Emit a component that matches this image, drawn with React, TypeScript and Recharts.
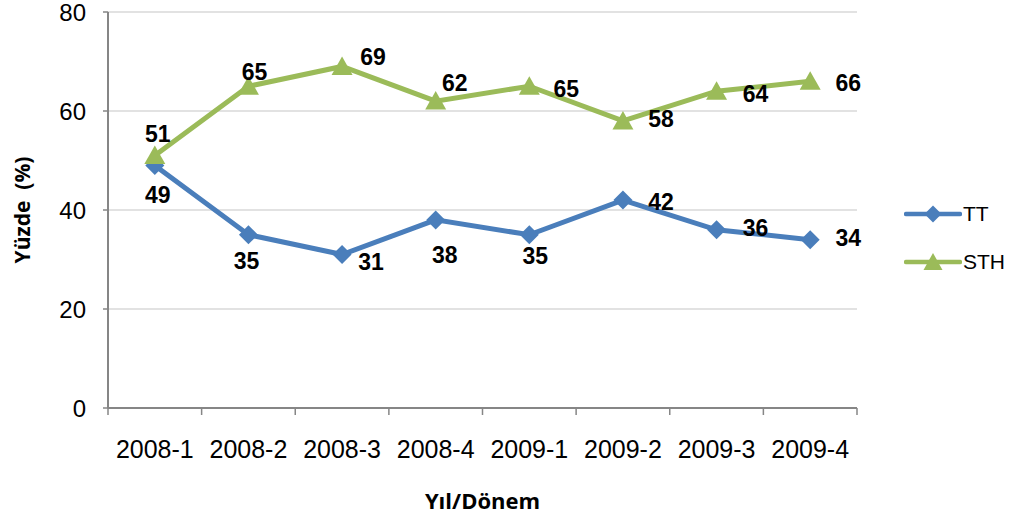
import { CartesianGrid, LabelList, Legend, Line, LineChart, XAxis, YAxis } from "recharts";

const periods = ["2008-1", "2008-2", "2008-3", "2008-4", "2009-1", "2009-2", "2009-3", "2009-4"];
const ttValues = [49, 35, 31, 38, 35, 42, 36, 34];
const sthValues = [51, 65, 69, 62, 65, 58, 64, 66];
const yTicks = [0, 20, 40, 60, 80];

const BLUE = "#4a7ebb";
const GREEN = "#9bbb59";
const AXIS = "#868686";
const GRID = "#d9d9d9";
const FONT = '"Liberation Sans", Arial, sans-serif';
const TITLE_FONT = '"Open Sans", "Liberation Sans", sans-serif';

// where each value label sits relative to its point (label centre), picked by hand to dodge the lines
const ttLabelOffsets = [[3, 30], [-2, 26], [29, 7], [9, 35], [6, 21], [38, 2], [39, -2], [38, -2]];
const sthLabelOffsets = [[3, -22], [6, -14], [31, -9], [19, -18], [37, 3], [38, -2], [39, 3], [38, 2]];

// x is numeric so the tick marks can sit between categories like in Excel
const data = periods.map((period, i) => ({ pos: i + 0.5, period, TT: ttValues[i], STH: sthValues[i] }));
const xTicks = [...periods.map((_, i) => i), periods.length, ...periods.map((_, i) => i + 0.5)].sort((a, b) => a - b);

function Diamond({ cx, cy, size = 9.5 }: { cx?: number; cy?: number; size?: number }) {
  if (cx == null || cy == null) return null;
  return <polygon points={`${cx},${cy - size} ${cx + size},${cy} ${cx},${cy + size} ${cx - size},${cy}`} fill={BLUE} />;
}

function Triangle({ cx, cy }: { cx?: number; cy?: number }) {
  if (cx == null || cy == null) return null;
  return <polygon points={`${cx},${cy - 10} ${cx + 10.5},${cy + 8.5} ${cx - 10.5},${cy + 8.5}`} fill={GREEN} />;
}

const valueLabel = (offsets: number[][]) => (props: any) => {
  const { x, y, value, index } = props;
  const [dx, dy] = offsets[index] ?? [0, -20];
  return (
    <text x={x + dx} y={y + dy} textAnchor="middle" dominantBaseline="central"
      fontFamily={FONT} fontWeight="bold" fontSize={23} fill="#000">
      {value}
    </text>
  );
};

function XTick({ x, y, payload }: any) {
  const v = payload.value as number;
  if (Number.isInteger(v)) {
    return <line x1={x} y1={y} x2={x} y2={y + 7} stroke={AXIS} strokeWidth={1.5} />;
  }
  return (
    <text x={x} y={y + 41} textAnchor="middle" dominantBaseline="central" fontFamily={FONT} fontSize={25} fill="#000">
      {periods[Math.floor(v)]}
    </text>
  );
}

function LegendBox() {
  const rows = [
    { name: "TT", color: BLUE, marker: <Diamond cx={29} cy={12} size={8.5} /> },
    { name: "STH", color: GREEN, marker: <polygon points="29,3 38.5,20 19.5,20" fill={GREEN} /> },
  ];
  return (
    <div>
      {rows.map((r) => (
        <div key={r.name} style={{ display: "flex", alignItems: "center", height: 24, marginBottom: 24 }}>
          <svg width={58} height={24}>
            <line x1={2} y1={12} x2={56} y2={12} stroke={r.color} strokeWidth={4.5} strokeLinecap="round" />
            {r.marker}
          </svg>
          <span style={{ fontFamily: FONT, fontSize: 21, color: "#000", marginLeft: 1 }}>{r.name}</span>
        </div>
      ))}
    </div>
  );
}

export default function App() {
  return (
    <div style={{ position: "absolute", left: 0, top: 0, background: "#fff" }}>
      <LineChart width={1014} height={518} data={data} margin={{ top: 12, right: 157, bottom: 0, left: 8 }}>
        <CartesianGrid horizontal vertical={false} stroke={GRID} strokeWidth={1.5} />
        <XAxis
          dataKey="pos"
          type="number"
          domain={[0, periods.length]}
          ticks={xTicks}
          interval={0}
          height={110}
          tickLine={false}
          tickSize={0}
          tickMargin={0}
          tick={<XTick />}
          axisLine={{ stroke: AXIS, strokeWidth: 2 }}
          label={{
            content: ({ viewBox }: any) => (
              <text x={viewBox.x + viewBox.width / 2} y={500} textAnchor="middle" dominantBaseline="central"
                fontFamily={TITLE_FONT} fontWeight="bold" fontSize={22} fill="#000">
                Yıl/Dönem
              </text>
            ),
          }}
        />
        <YAxis
          width={100}
          domain={[0, 80]}
          ticks={yTicks}
          interval={0}
          tickSize={5}
          tickMargin={17}
          tickLine={{ stroke: AXIS, strokeWidth: 1.5 }}
          axisLine={{ stroke: AXIS, strokeWidth: 2 }}
          tick={{ fontFamily: FONT, fontSize: 24, fill: "#000" }}
          label={{
            content: ({ viewBox }: any) => {
              const cy = viewBox.y + viewBox.height / 2;
              return (
                <text x={22} y={cy} transform={`rotate(-90 22 ${cy})`} textAnchor="middle" dominantBaseline="central"
                  fontFamily={TITLE_FONT} fontWeight="bold" fontSize={21} fill="#000" style={{ whiteSpace: "pre" }}>
                  {"Yüzde  (%)"}
                </text>
              );
            },
          }}
        />
        <Legend
          layout="vertical"
          align="center"
          verticalAlign="middle"
          content={<LegendBox />}
          wrapperStyle={{ left: 904, top: 202, width: 110 }}
        />
        <Line dataKey="TT" name="TT" stroke={BLUE} strokeWidth={5} dot={<Diamond />} activeDot={false} isAnimationActive={false}>
          <LabelList dataKey="TT" content={valueLabel(ttLabelOffsets)} />
        </Line>
        <Line dataKey="STH" name="STH" stroke={GREEN} strokeWidth={5} dot={<Triangle />} activeDot={false} isAnimationActive={false}>
          <LabelList dataKey="STH" content={valueLabel(sthLabelOffsets)} />
        </Line>
      </LineChart>
    </div>
  );
}
